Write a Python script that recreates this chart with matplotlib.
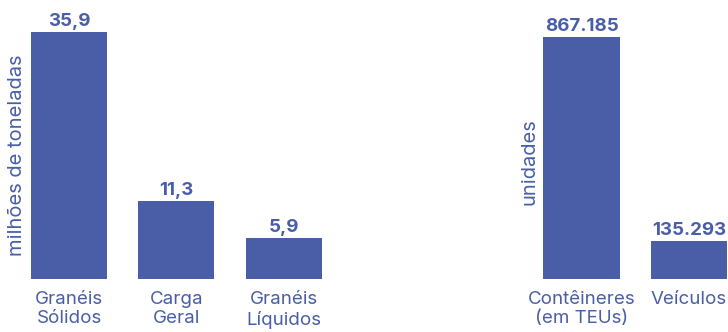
import matplotlib
matplotlib.use("Agg")
import matplotlib.pyplot as plt

left_categories = ["Granéis\nSólidos", "Carga\nGeral", "Granéis\nLíquidos"]
left_values = [35.9, 11.3, 5.9]
left_labels = ["35,9", "11,3", "5,9"]

right_categories = ["Contêineres\n(em TEUs)", "Veículos"]
right_values = [867185, 135293]
right_labels = ["867.185", "135.293"]

color = "#4a5ea8"
font = "Inter"

W, H = 728, 332
fig = plt.figure(figsize=(W / 100, H / 100), dpi=100)

bottom_px = 279
unit_px = 107.3

def make_axes(x0_px, x1_px, center0_px, top_val_px, top_val):
    ax = fig.add_axes([x0_px / W, (H - bottom_px) / H, (x1_px - x0_px) / W, bottom_px / H])
    ax.set_xlim((x0_px - center0_px) / unit_px, (x1_px - center0_px) / unit_px)
    scale = (bottom_px - top_val_px) / top_val
    ax.set_ylim(0, bottom_px / scale)
    ax.set_facecolor("none")
    for s in ax.spines.values():
        s.set_visible(False)
    ax.set_yticks([])
    return ax

ax1 = make_axes(0, 340, 69, 32, left_values[0])
ax2 = make_axes(512, 728, 581.5, 37, right_values[0])

for ax, cats, vals, labs in [
    (ax1, left_categories, left_values, left_labels),
    (ax2, right_categories, right_values, right_labels),
]:
    x = list(range(len(vals)))
    ax.bar(x, vals, width=0.71, color=color)
    for xi, v, lab in zip(x, vals, labs):
        ax.annotate(lab, (xi, v), xytext=(0, 1.5), textcoords="offset points",
                    ha="center", va="bottom", color=color, fontsize=13.5,
                    fontweight="bold", family=font)
    ax.set_xticks(x)
    ax.set_xticklabels(cats, color=color, fontsize=13.5, family=font, linespacing=1.15)
    ax.tick_params(axis="x", length=0, pad=9)

fig.text(17 / W, 1 - 155 / H, "milhões de toneladas", rotation=90, ha="center", va="center",
         color=color, fontsize=14.5, family=font)
fig.text(530 / W, 1 - 162 / H, "unidades", rotation=90, ha="center", va="center",
         color=color, fontsize=14.5, family=font)

fig.savefig("out.png", dpi=100)
